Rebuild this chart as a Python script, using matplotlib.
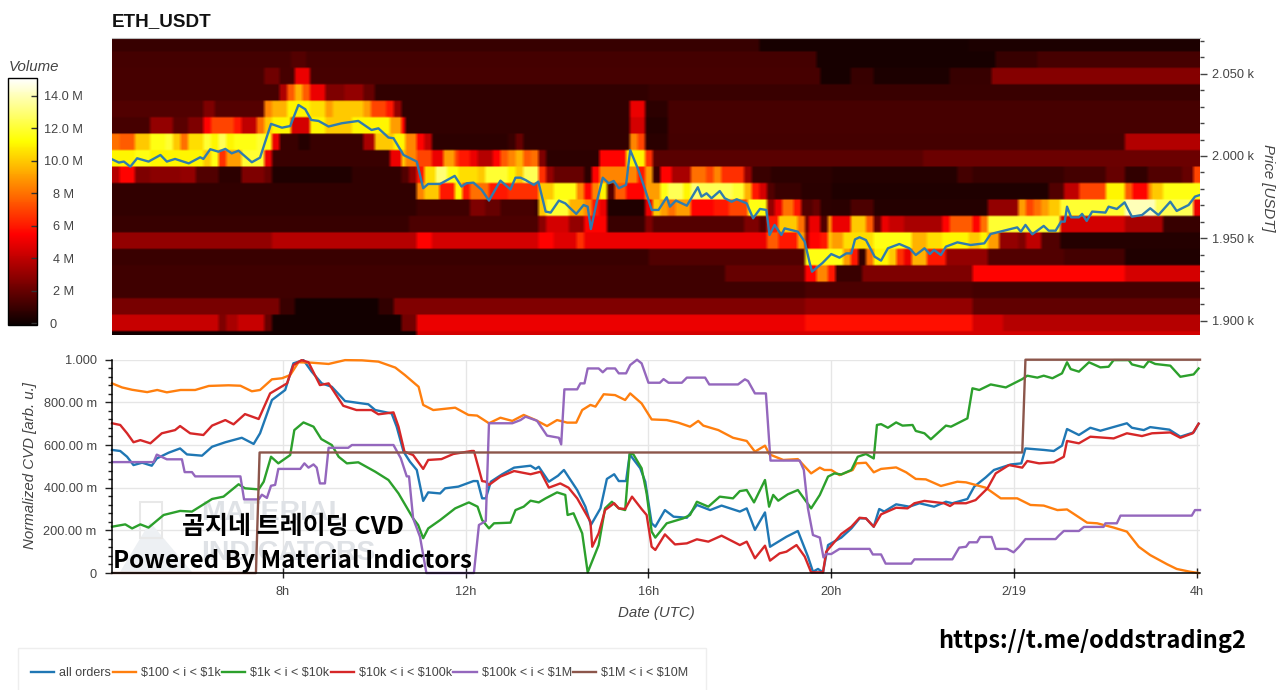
import numpy as np
import matplotlib
matplotlib.use("Agg")
import matplotlib.pyplot as plt
from matplotlib.patches import Rectangle, Polygon
from matplotlib.ticker import FixedLocator, MultipleLocator
from matplotlib.transforms import ScaledTranslation

plt.rcParams['font.family'] = ['Liberation Sans', 'Noto Sans CJK KR', 'DejaVu Sans']

W, H = 1280, 690

# ---- heat map rows: volume (M) per price level, bottom to top; each row = (end hour of run, volume)
price_edge_start = 1883.6
price_edge_step = 10.0
r0 = [(10.91, .1), (28.07, 4.5)]
r1 = [(6.58, 4.2), (6.73, 2.5), (7.04, 3.5), (7.58, 4.2), (7.74, 2), (10.6, .1), (10.91, 2.3), (19.41, 5), (23.06, 5.8), (23.76, 4.5), (28.07, 3.8)]
r2 = [(7.9, 2.4), (8.25, 1), (10.09, .1), (10.4, .8), (19.41, 2.6), (23.06, 3), (28.07, 1.9)]
r3 = [(19.41, 1.1), (23.06, 1.4), (28.07, 1.2)]
r4 = [(17.7, 1.1), (19.41, 2), (19.7, 5.5), (19.9, 8.5), (20.07, 6), (20.7, 1), (23.06, 2.5), (26.4, 5.5), (28.07, 4.5)]
r5 = [(16, 1), (19.42, 1.5), (20.25, 11.5), (20.44, 9), (20.58, 6), (20.76, .8), (20.91, 8), (21.24, 11), (21.42, 10), (21.6, 6.5), (21.75, 5), (22.11, 9.5), (22.47, 6), (23.45, 3), (25.09, 1.5), (26.4, 1.2), (28.07, .4)]
r6 = [(7.74, 3), (10.91, 3.8), (11.26, 5.5), (13.57, 4.5), (13.89, 5.5), (14.44, 4.7), (14.58, 6.5), (18.58, 5), (18.87, 7.5), (19.27, 6), (19.42, 9), (19.53, 3), (19.75, 5.5), (19.89, 6), (20, 10), (20.25, 9), (20.95, 10.5), (21.75, 11.5), (22.11, 9.5), (22.4, 10.5), (23.05, 11), (23.24, 10), (23.42, 11), (23.64, 9), (24.07, 3), (24.29, 2.5), (24.58, 4), (25.05, 1.5), (28.07, .5)]
r7 = [(10.8, .9), (13.56, 1.4), (13.75, 2.8), (14.25, 4.5), (14.58, 3), (15.09, 5.5), (15.89, 1), (16.07, 2.5), (18.07, 1.6), (18.4, 2.5), (18.58, 1.6), (18.87, 6), (19.27, 10), (19.42, 8), (19.53, 2), (19.75, 5), (19.89, 1.5), (20, 9), (20.44, 5), (20.76, 10), (20.95, 7.5), (21.09, 2), (21.27, 5), (21.6, 4.2), (22.4, 3.5), (22.58, 5.5), (23.09, 7.5), (23.24, 5.5), (23.42, 8), (25.05, 12), (26.4, 4.5), (27.27, 3.5), (28.07, .9)]
r8 = [(10.9, .8), (12.11, 1.1), (12.4, 2.5), (12.76, 2), (13.49, 1.3), (13.6, 1), (13.75, 10), (14.29, 12), (14.62, 9.5), (14.76, 8.5), (14.91, 6), (15.09, 5), (15.89, .4), (16.07, 5), (16.22, 10), (16.4, 9), (16.62, 8), (16.91, 9), (17.46, 5.5), (17.78, 6), (18.18, 7), (18.58, 11.5), (18.73, 3), (18.91, 5), (19.2, 8), (19.38, 6), (19.6, 1.5), (19.75, 2), (20, .7), (20.44, .6), (20.95, 1.4), (23.42, .5), (24.07, 3), (24.25, 9), (24.44, 7), (24.58, 8), (24.76, 9), (25.05, 10), (26.4, 12), (27.13, 14), (27.89, 12.5), (28.07, 5)]
r9 = [(10.93, .8), (11.07, 8.5), (11.4, 10), (11.73, 6), (11.91, 11), (12.06, 6), (12.47, 8), (12.91, 6), (13.6, 6.5), (13.93, 10), (14.4, 11.5), (14.58, 8.5), (14.73, 5.5), (14.91, 8.5), (15.09, 11), (15.24, 1.5), (15.53, 7.5), (15.89, 5.5), (16.22, 9), (16.4, 11.5), (16.76, 12.5), (16.91, 11), (17.13, 13), (17.85, 12.5), (18.07, 12), (18.25, 9.5), (18.44, 6), (18.58, 4.5), (18.73, 1.5), (19.38, 1), (20, .6), (24.73, .4), (25.09, 1.5), (25.42, 4), (26.04, 7), (26.4, 11), (26.58, 7.5), (26.91, 5.5), (27.05, 8.5), (27.24, 10), (28.07, 11.5)]
r10 = [(4.41, 3.8), (4.73, 5.5), (5.1, 2.5), (5.79, 2.8), (6.08, 3), (6.59, 1.5), (7.1, .7), (7.57, 2.5), (7.72, 2), (9.51, .4), (10.56, .8), (10.74, 1.5), (10.93, 3), (11.07, 6), (11.36, 10.5), (11.62, 13), (11.84, 11.5), (12.25, 10.5), (12.44, 10), (12.91, 12), (13.09, 11), (13.27, 10), (13.56, 12.5), (13.75, 6.5), (13.93, 3), (14.58, 2), (14.73, .7), (14.91, 5.5), (15.75, 8.5), (15.89, 6), (16.07, 9), (16.25, 1), (16.55, 5.5), (16.91, 3.5), (17.24, 8), (17.42, 7), (17.56, 8.5), (18.07, 6.5), (18.25, 3), (18.66, 1), (20, .7), (22.76, .5), (23.09, 1.2), (25.09, .9), (26.04, 1.2), (26.4, 2), (26.91, .8), (27.71, 1.5), (27.89, 2), (28.07, 7)]
r11 = [(4.77, 11), (5.1, 11.5), (6.3, 11), (6.45, 10), (6.59, 11.5), (6.74, 6.5), (7.07, 9), (7.57, 12), (7.72, 5), (10.38, 1), (10.56, 5), (10.71, 10), (10.93, 8.5), (11.25, 7), (11.55, 5), (11.73, 9), (11.87, 7), (12.09, 6), (12.25, 5), (12.58, 3.8), (12.76, 5.5), (12.95, 7.5), (13.09, 8.5), (13.27, 9.5), (13.42, 7.5), (13.59, 8), (13.75, 2.5), (14.91, .7), (15.53, 5.5), (15.89, 11), (16.07, 6.5), (22, 1.7), (28.07, 2.1)]
r12 = [(4.44, 8), (4.73, 7.5), (5.06, 10), (5.39, 11.5), (5.57, 12), (5.75, 10), (5.9, 8), (6.23, 10.5), (6.41, 12), (6.59, 11), (6.74, 12.5), (6.92, 11), (7.39, 11.5), (7.57, 12), (7.72, 11.5), (7.9, 5), (8.34, 1), (8.56, .5), (9.72, 1), (10.05, 3.5), (10.42, 10), (10.71, 11), (10.89, 8.5), (11.07, 5.5), (11.25, 4), (12.9, .7), (13.09, 1), (13.27, 2), (15.57, .8), (15.75, 8.5), (15.92, 7), (16.4, .6), (26.4, 1.2), (28.07, 3.7)]
r13 = [(5.06, 1.3), (5.57, 3), (5.94, 1.7), (6.23, 2.5), (6.41, 5.5), (6.92, 7), (7.07, 6), (7.39, 4), (7.57, 8), (7.72, 10), (8.19, 11), (8.57, 4.5), (8.92, 11), (9.51, 10), (10.38, 11), (10.56, 9), (10.71, 5.5), (15.57, .8), (15.92, 4.5), (16.4, .5), (28.07, 1.3)]
r14 = [(6.23, 1.5), (6.52, 2.5), (7.57, 1.6), (7.72, 8.5), (8.06, 9.5), (8.56, 11), (8.92, 10.5), (9.07, 9), (9.72, 10), (9.91, 9), (10.27, 7), (10.42, 6), (10.56, 3), (15.57, .8), (15.92, 5), (16.4, .7), (28.07, 1.3)]
r15 = [(7.9, 1.3), (8.06, 3.6), (8.23, 7.5), (8.4, 9.5), (8.6, 7.5), (8.92, 5), (9.36, 2.5), (9.72, 3), (10, 2), (16, .8), (28.07, 1.0)]
r16 = [(7.57, 1.3), (7.9, 2.2), (8.23, 1.3), (8.57, 5), (19.73, 1.3), (20.43, .2), (20.9, .9), (22.57, .3), (23.54, .9), (28.07, 2.7)]
r17 = [(8.2, 1.2), (8.5, 1.6), (19.7, 1.2), (23.58, .2), (24.5, .9), (28.07, 1.3)]
r18 = [(18.4, .9), (23, .2), (28.07, .3)]
heat_rows = [r0, r1, r2, r3, r4, r5, r6, r7, r8, r9, r10, r11, r12, r13, r14, r15, r16, r17, r18]

# ---- price line (hour, USDT)
price_t = [4.26, 4.41, 4.52, 4.66, 4.81, 5.06, 5.32, 5.46, 5.64, 5.94, 6.19, 6.26, 6.41, 6.59, 6.74, 6.88, 7.03, 7.32, 7.5, 7.74, 7.98, 8.16, 8.34, 8.49, 8.62, 8.78, 9, 9.29, 9.65, 9.94, 10.09, 10.31, 10.42, 10.64, 10.93, 11.07, 11.18, 11.44, 11.76, 11.91, 12.02, 12.17, 12.35, 12.51, 12.76, 12.98, 13.09, 13.2, 13.31, 13.49, 13.59, 13.75, 13.86, 14.04, 14.18, 14.29, 14.42, 14.58, 14.67, 14.74, 14.87, 15.0, 15.13, 15.24, 15.35, 15.51, 15.6, 15.78, 15.93, 16.07, 16.22, 16.4, 16.47, 16.6, 16.84, 17.08, 17.16, 17.27, 17.38, 17.56, 17.67, 17.82, 17.93, 18.15, 18.29, 18.44, 18.58, 18.65, 18.76, 18.91, 18.98, 19.27, 19.42, 19.53, 19.58, 19.81, 20.0, 20.18, 20.33, 20.44, 20.52, 20.62, 20.76, 20.95, 21.09, 21.24, 21.49, 21.71, 21.85, 22.04, 22.16, 22.25, 22.4, 22.51, 22.76, 23.05, 23.35, 23.49, 23.78, 24.07, 24.15, 24.25, 24.4, 24.65, 24.76, 24.91, 25.03, 25.11, 25.16, 25.25, 25.42, 25.49, 25.59, 25.71, 26.0, 26.07, 26.25, 26.42, 26.58, 26.8, 26.98, 27.16, 27.42, 27.56, 27.82, 27.96, 28.07]
price_v = [1998, 1996, 1996.6, 1993.5, 1998.6, 1996.6, 2000.6, 1996.6, 1998.2, 1995.5, 1999.2, 1998.2, 2004.1, 2002.6, 2004.3, 2001.6, 2003.2, 1996.2, 1999, 2019.5, 2017.2, 2018.2, 2031, 2028.4, 2021.9, 2021.3, 2017.9, 2019.9, 2021.3, 2015.8, 2016.8, 2011.2, 2010.8, 2000.6, 1996.6, 1980.4, 1983, 1983, 1987.9, 1981.4, 1983.4, 1983.8, 1979.4, 1972.9, 1985, 1979.7, 1986.8, 1986.8, 1985.4, 1982.4, 1984.4, 1966.2, 1965.6, 1972.9, 1971.2, 1968.2, 1964.8, 1970.2, 1969.2, 1955.6, 1972.2, 1986.8, 1983.4, 1984.8, 1980.4, 1982.4, 2003.6, 1991.5, 1979.3, 1967.2, 1967.2, 1974.9, 1969.2, 1972.9, 1969.8, 1981, 1975.3, 1977.3, 1974.3, 1978.7, 1974.3, 1972.2, 1973.7, 1971.2, 1962.1, 1967.8, 1967.2, 1952, 1958.1, 1952, 1956, 1954, 1947.9, 1934.8, 1929.7, 1935, 1940.4, 1938.2, 1940.8, 1940.8, 1949.3, 1950.6, 1948.9, 1938.8, 1936.4, 1943.9, 1946.5, 1943.9, 1939.8, 1943.9, 1940.4, 1942.9, 1939.8, 1944.9, 1947.5, 1945.9, 1946.9, 1952.6, 1954.6, 1956.6, 1954, 1958.1, 1952.4, 1957.5, 1954.6, 1954.6, 1960.1, 1960.1, 1969.2, 1962.7, 1962.7, 1964.8, 1960.5, 1966.2, 1965.6, 1969.2, 1967.8, 1971.8, 1963.1, 1964.1, 1968.2, 1964.1, 1972.2, 1966.6, 1970.2, 1975.3, 1976.3]

# ---- normalized CVD series (hour, value)
all_t = [4.26, 4.44, 4.59, 4.73, 4.92, 5.13, 5.24, 5.5, 5.75, 5.9, 6.23, 6.45, 6.74, 7.1, 7.36, 7.5, 7.76, 8.05, 8.23, 8.45, 8.63, 8.85, 9.07, 9.36, 9.87, 10.02, 10.38, 10.49, 10.64, 10.78, 10.93, 11.07, 11.18, 11.44, 11.55, 11.84, 12.17, 12.26, 12.36, 12.44, 12.55, 12.8, 13.06, 13.42, 13.53, 13.6, 13.82, 14.02, 14.15, 14.44, 14.62, 14.74, 14.95, 15.09, 15.25, 15.35, 15.51, 15.59, 15.82, 15.93, 16.07, 16.15, 16.36, 16.55, 16.84, 17.06, 17.35, 17.6, 18.0, 18.15, 18.33, 18.55, 18.66, 19.02, 19.27, 19.49, 19.6, 19.71, 19.82, 19.93, 20.22, 20.44, 20.62, 20.76, 20.93, 21.05, 21.16, 21.42, 21.71, 21.93, 22.25, 22.51, 22.65, 22.98, 23.13, 23.38, 23.56, 23.93, 24.16, 24.25, 24.65, 24.87, 25.05, 25.16, 25.42, 25.67, 25.89, 26.47, 26.58, 26.84, 26.98, 27.4, 27.64, 27.93, 28.04]
all_v = [.577, .572, .545, .506, .517, .503, .537, .564, .584, .556, .55, .592, .613, .634, .605, .655, .811, .858, .983, .998, .944, .889, .873, .806, .791, .764, .748, .686, .569, .522, .483, .338, .378, .373, .397, .405, .431, .431, .35, .35, .428, .463, .494, .503, .488, .498, .428, .456, .483, .389, .311, .225, .303, .441, .463, .431, .431, .556, .491, .428, .233, .217, .295, .264, .259, .319, .295, .316, .288, .303, .202, .284, .123, .17, .197, .077, .006, .019, .003, .131, .166, .209, .256, .256, .217, .3, .288, .322, .311, .327, .311, .334, .327, .347, .405, .448, .483, .509, .514, .584, .577, .572, .597, .675, .647, .681, .667, .702, .681, .67, .684, .672, .639, .659, .7]

o100_t = [4.26, 4.48, 4.7, 5.03, 5.25, 5.46, 5.76, 6.08, 6.38, 6.81, 7.07, 7.32, 7.5, 7.76, 7.98, 8.16, 8.34, 8.63, 9.0, 9.36, 9.73, 10.09, 10.46, 10.67, 10.97, 11.07, 11.29, 11.77, 12.06, 12.25, 12.51, 12.76, 13.02, 13.27, 13.53, 13.78, 14.0, 14.22, 14.42, 14.55, 14.73, 14.84, 15.02, 15.27, 15.49, 15.6, 15.85, 16.07, 16.4, 16.65, 16.91, 17.09, 17.2, 17.53, 17.85, 18.15, 18.33, 18.55, 18.65, 18.95, 19.27, 19.56, 19.75, 19.85, 20.0, 20.18, 20.47, 20.55, 20.76, 20.93, 21.09, 21.42, 21.64, 21.85, 22.07, 22.4, 22.76, 22.95, 23.38, 23.71, 24.07, 24.36, 24.65, 24.95, 25.16, 25.6, 25.82, 26.18, 26.47, 26.73, 26.98, 27.35, 27.56, 27.85, 28.04]
o100_v = [.889, .87, .859, .848, .858, .847, .858, .858, .877, .88, .878, .852, .858, .908, .913, .928, .988, .986, .98, .998, .997, .991, .963, .928, .873, .788, .764, .775, .741, .738, .702, .728, .713, .741, .717, .689, .717, .705, .705, .764, .788, .78, .838, .834, .811, .842, .795, .72, .717, .705, .686, .713, .691, .67, .634, .619, .569, .597, .556, .53, .534, .467, .494, .483, .483, .459, .483, .514, .517, .472, .488, .495, .472, .441, .439, .408, .428, .425, .4, .35, .35, .319, .316, .295, .298, .236, .233, .213, .194, .123, .084, .041, .019, .006, 0]

k1_t = [4.26, 4.55, 4.7, 4.88, 5.06, 5.39, 5.75, 6.01, 6.45, 6.7, 7.03, 7.17, 7.47, 7.58, 7.74, 7.9, 8.16, 8.25, 8.45, 8.67, 8.84, 9.07, 9.22, 9.4, 9.65, 10.02, 10.31, 10.53, 10.85, 10.96, 11.07, 11.18, 11.44, 11.77, 12.07, 12.26, 12.36, 12.51, 12.62, 12.98, 13.09, 13.27, 13.42, 13.6, 13.75, 14.0, 14.18, 14.23, 14.36, 14.55, 14.67, 14.91, 15.05, 15.2, 15.35, 15.49, 15.59, 15.67, 15.85, 15.96, 16.07, 16.15, 16.4, 16.76, 16.91, 17.06, 17.31, 17.56, 17.85, 18.0, 18.15, 18.31, 18.55, 18.64, 18.73, 18.84, 19.05, 19.27, 19.56, 19.75, 19.93, 20.07, 20.22, 20.44, 20.58, 20.76, 20.93, 21.0, 21.09, 21.24, 21.42, 21.56, 21.78, 21.85, 22.04, 22.18, 22.36, 22.51, 22.62, 22.98, 23.09, 23.24, 23.49, 23.82, 24.18, 24.29, 24.51, 24.65, 24.84, 25.05, 25.16, 25.24, 25.42, 25.64, 25.89, 26.07, 26.18, 26.51, 26.58, 26.84, 26.95, 27.09, 27.42, 27.64, 27.93, 28.04]
k1_v = [.217, .228, .209, .228, .213, .272, .291, .288, .347, .358, .416, .397, .392, .428, .545, .514, .553, .67, .706, .686, .628, .6, .545, .514, .519, .475, .436, .373, .256, .225, .163, .209, .248, .303, .331, .311, .248, .209, .233, .236, .295, .311, .339, .331, .35, .378, .366, .272, .28, .186, .003, .131, .303, .334, .303, .295, .561, .556, .491, .373, .194, .166, .233, .256, .272, .334, .311, .358, .35, .384, .389, .331, .436, .311, .366, .339, .369, .389, .303, .366, .452, .467, .462, .483, .545, .558, .537, .694, .698, .681, .706, .691, .694, .666, .655, .627, .662, .691, .686, .725, .866, .858, .884, .87, .909, .925, .916, .925, .913, .936, .988, .956, .944, .988, .964, .967, .998, .998, .978, .964, .994, .98, .972, .92, .931, .959]

k10_t = [4.26, 4.44, 4.59, 4.73, 4.88, 5.1, 5.35, 5.64, 5.75, 5.97, 6.26, 6.45, 6.74, 6.92, 7.17, 7.47, 7.72, 8.09, 8.23, 8.41, 8.56, 8.81, 9.0, 9.32, 9.61, 9.94, 10.09, 10.42, 10.53, 10.66, 10.85, 11.07, 11.18, 11.47, 11.73, 12.13, 12.18, 12.36, 12.44, 12.51, 12.76, 13.06, 13.42, 13.64, 13.82, 14.07, 14.25, 14.44, 14.73, 14.77, 14.91, 15.05, 15.25, 15.35, 15.49, 15.64, 15.85, 15.96, 16.07, 16.15, 16.36, 16.58, 16.84, 17.06, 17.31, 17.6, 18.0, 18.15, 18.33, 18.55, 18.66, 18.87, 19.02, 19.24, 19.42, 19.56, 19.82, 19.89, 20.22, 20.44, 20.62, 20.76, 20.93, 21.09, 21.42, 21.67, 21.82, 22.04, 22.47, 22.6, 22.69, 22.95, 23.16, 23.42, 23.6, 23.89, 24.18, 24.29, 24.55, 24.87, 25.09, 25.16, 25.42, 25.67, 26.18, 26.47, 26.8, 27.02, 27.42, 27.64, 27.91, 28.04]
k10_v = [.702, .694, .655, .613, .623, .608, .655, .67, .689, .655, .647, .691, .717, .697, .745, .722, .842, .889, .975, .998, .988, .881, .889, .784, .764, .764, .744, .753, .686, .569, .553, .488, .53, .534, .558, .572, .572, .431, .428, .413, .452, .478, .463, .475, .4, .42, .4, .35, .241, .123, .186, .295, .327, .303, .3, .358, .3, .272, .123, .108, .181, .134, .139, .158, .147, .175, .131, .147, .069, .128, .058, .092, .1, .131, .077, .003, .003, .1, .183, .217, .259, .256, .217, .275, .306, .303, .327, .338, .327, .314, .327, .327, .342, .397, .467, .506, .494, .525, .514, .519, .545, .619, .608, .639, .631, .655, .642, .655, .659, .634, .655, .7]

k100_t = [4.26, 5.17, 5.24, 5.46, 5.79, 5.85, 6.01, 6.08, 7.07, 7.15, 7.47, 7.54, 7.65, 7.74, 7.83, 7.9, 8.38, 8.47, 8.56, 8.67, 8.74, 8.81, 8.92, 9.0, 9.43, 9.51, 10.42, 10.58, 10.71, 10.76, 10.85, 11.0, 11.14, 12.18, 12.29, 12.44, 12.51, 13.02, 13.2, 13.31, 13.56, 13.78, 14.04, 14.09, 14.16, 14.44, 14.51, 14.6, 14.67, 14.91, 15.0, 15.09, 15.27, 15.35, 15.51, 15.6, 15.75, 15.85, 16.0, 16.25, 16.33, 16.44, 16.73, 16.84, 17.24, 17.33, 17.96, 18.11, 18.18, 18.33, 18.57, 18.67, 19.31, 19.4, 19.49, 19.6, 19.75, 19.83, 19.89, 20.0, 20.18, 20.84, 20.91, 21.09, 21.19, 21.75, 21.82, 22.65, 22.8, 22.95, 23.02, 23.19, 23.26, 23.51, 23.6, 23.85, 23.99, 24.11, 24.25, 24.91, 24.98, 25.09, 25.42, 25.53, 25.96, 26.0, 26.25, 26.33, 27.89, 27.96, 28.07]
k100_v = [.52, .52, .555, .533, .533, .473, .473, .453, .453, .345, .345, .367, .352, .409, .413, .488, .488, .514, .494, .509, .494, .42, .42, .587, .587, .6, .6, .538, .453, .453, .256, .17, 0, 0, .225, .244, .702, .702, .717, .733, .714, .644, .634, .603, .861, .861, .889, .889, .959, .959, .941, .959, .959, .936, .936, .975, 1.0, .983, .892, .892, .909, .892, .892, .916, .916, .884, .884, .908, .9, .842, .842, .527, .527, .483, .303, .178, .166, .073, .089, .089, .113, .113, .087, .087, .044, .044, .064, .064, .119, .123, .144, .144, .169, .169, .113, .113, .097, .123, .159, .159, .175, .197, .197, .216, .216, .233, .233, .269, .269, .295, .295]

m1_t = [4.26, 7.41, 7.49, 24.18, 24.25, 28.07]
m1_v = [0, 0, .565, .565, 1, 1]

series_names = ['all orders', '$100 < i < $1k', '$1k < i < $10k', '$10k < i < $100k', '$100k < i < $1M', '$1M < i < $10M']
series_t = [all_t, o100_t, k1_t, k10_t, k100_t, m1_t]
series_v = [all_v, o100_v, k1_v, k10_v, k100_v, m1_v]
series_colors = ['#1f77b4', '#ff7f0e', '#2ca02c', '#d62728', '#9467bd', '#8c564b']

cbar_ticks = [0, 2, 4, 6, 8, 10, 12, 14]
cbar_labels = ['0', '2 M', '4 M', '6 M', '8 M', '10.0 M', '12.0 M', '14.0 M']
price_ticks = [1900, 1950, 2000, 2050]
price_labels = ['1.900 k', '1.950 k', '2.000 k', '2.050 k']
cvd_ticks = [0, .2, .4, .6, .8, 1.0]
cvd_labels = ['0', '200.00 m', '400.00 m', '600.00 m', '800.00 m', '1.000']
hour_ticks = [8, 12, 16, 20, 24, 28]
hour_labels = ['8h', '12h', '16h', '20h', '2/19', '4h']

GRAY = '#444444'
fig = plt.figure(figsize=(W / 100, H / 100), dpi=100, facecolor='white')


def axpx(l, t, r, b):
    return fig.add_axes([l / W, 1 - b / H, (r - l) / W, (b - t) / H])


def fx(x):
    return x / W


def fy(y):
    return 1 - y / H


xlim = (4.26, 28.07)

# ---------- heat map (upsampled only vertically so that the bilinear blur stays small between rows)
ax = axpx(112, 38, 1200, 335)
t_edges = np.arange(xlim[0], xlim[1] + 1 / 12, 1 / 12)
t_mid = (t_edges[:-1] + t_edges[1:]) / 2
grid = []
for row in heat_rows:
    ends = [e for e, _ in row]
    vals = np.array([v for _, v in row])
    grid.append(vals[np.clip(np.searchsorted(ends, t_mid), 0, len(vals) - 1)])
grid = np.repeat(np.array(grid), 8, axis=0)
p_edges = price_edge_start + price_edge_step * np.arange(len(heat_rows) + 1)
pcm = ax.imshow(grid, cmap='hot', vmin=-0.12, vmax=15.1, origin='lower', aspect='auto', interpolation='bilinear',
                extent=(t_edges[0], t_edges[-1], p_edges[0], p_edges[-1]))
ax.plot(price_t, price_v, color='#2f7cae', lw=1.7, solid_joinstyle='round')
ax.set_xlim(*xlim)
ax.set_ylim(1891.2, 2071.7)
ax.set_xticks([])
ax.yaxis.tick_right()
ax.yaxis.set_major_locator(FixedLocator(price_ticks))
ax.set_yticklabels(price_labels)
ax.yaxis.set_minor_locator(MultipleLocator(10))
ax.tick_params(axis='y', which='major', length=5, width=1, color='#444444', labelcolor=GRAY, labelsize=9.2, pad=4)
ax.tick_params(axis='y', which='minor', length=3, width=1, color='#444444')
for s in ['left', 'bottom', 'right']:
    ax.spines[s].set_visible(False)
ax.spines['top'].set_color('#bbbbbb')
ax.spines['top'].set_linewidth(0.8)
fig.text(fx(112), fy(22), 'ETH_USDT', fontsize=13.6, fontweight='bold', color='#111111', ha='left', va='center')
fig.text(fx(1268), fy(188), 'Price [USDT]', fontsize=10.8, fontstyle='italic', color=GRAY, rotation=270, ha='center', va='center')

# ---------- colour bar
cax = axpx(8, 78, 37, 325)
cb = fig.colorbar(pcm, cax=cax)
cb.set_ticks(cbar_ticks)
cb.set_ticklabels(cbar_labels)
cb.minorticks_off()
cb.outline.set_edgecolor('black')
cb.outline.set_linewidth(1)
cax.tick_params(axis='y', direction='in', length=4, width=1, color='#333333', labelcolor=GRAY, labelsize=9.2, pad=19)
for lbl in cax.get_yticklabels():
    lbl.set_ha('center')
    if lbl.get_text() == '0':
        lbl.set_transform(lbl.get_transform() + ScaledTranslation(-10 / 100, 0, fig.dpi_scale_trans))
fig.text(fx(9), fy(67), 'Volume', fontsize=10.8, fontstyle='italic', color=GRAY, ha='left', va='center')

# ---------- CVD lines
ax2 = axpx(112, 359.7, 1200, 573)
ax2.set_xlim(*xlim)
ax2.set_ylim(0, 1)
ax2.set_facecolor('white')
handles = []
for t, v, c, n in zip(series_t, series_v, series_colors, series_names):
    h, = ax2.plot(t, v, color=c, lw=1.7, clip_on=False, zorder=3, label=n.replace('$', r'\$'), solid_joinstyle='round')
    handles.append(h)
ax2.set_xticks(hour_ticks)
ax2.set_xticklabels(hour_labels)
ax2.set_yticks(cvd_ticks)
ax2.set_yticklabels(cvd_labels)
ax2.yaxis.set_minor_locator(MultipleLocator(0.04))
ax2.grid(True, which='major', color='#e6e6e6', lw=1)
ax2.set_axisbelow(True)
for s in ['top', 'right']:
    ax2.spines[s].set_visible(False)
for s in ['left', 'bottom']:
    ax2.spines[s].set_color('black')
    ax2.spines[s].set_linewidth(1.1)
    ax2.spines[s].set_zorder(4)
ax2.tick_params(axis='x', which='major', direction='inout', length=7, width=1, color='#222222', labelcolor=GRAY, labelsize=9.2, pad=6)
ax2.tick_params(axis='y', which='major', length=5, width=1, color='#222222', labelcolor=GRAY, labelsize=9.2, pad=6)
ax2.tick_params(axis='y', which='minor', length=3, width=1, color='#222222')
fig.text(fx(30), fy(466), 'Normalized CVD [arb. u.]', fontsize=10.8, fontstyle='italic', color=GRAY, rotation=90, ha='center', va='center')
fig.text(fx(656), fy(613), 'Date (UTC)', fontsize=10.8, fontstyle='italic', color=GRAY, ha='center', va='center')

# ---------- faint watermark behind the lines
ax2.add_patch(Polygon([[fx(120), fy(572)], [fx(150), fy(522)], [fx(192), fy(572)]], closed=True, transform=fig.transFigure,
                      facecolor='#edf0f3', edgecolor='none', zorder=1))
ax2.add_patch(Rectangle((fx(140), fy(538)), 22 / W, 36 / H, transform=fig.transFigure, fill=False, edgecolor='#e8e8e8', lw=1.5, zorder=1))
ax2.text(fx(201), fy(513), 'MATERIAL', transform=fig.transFigure, fontsize=20.5, fontweight='bold', color='#dfe2e6', ha='left', va='center', zorder=1)
ax2.text(fx(201), fy(553), 'INDICATORS', transform=fig.transFigure, fontsize=20.5, fontweight='bold', color='#dfe2e6', ha='left', va='center', zorder=1)

# ---------- black overlay texts
KR = ['Noto Sans CJK KR', 'DejaVu Sans']
fig.text(fx(293), fy(527), '곰지네 트레이딩 CVD', family=KR, fontsize=18, fontweight='bold', color='black', ha='center', va='center', zorder=10)
fig.text(fx(113), fy(561), 'Powered By Material Indictors', family=KR, fontsize=17.4, fontweight='bold', color='black', ha='left', va='center', zorder=10)
fig.text(fx(938), fy(641), 'https://t.me/oddstrading2', family=KR, fontsize=17, fontweight='bold', color='black', ha='left', va='center', zorder=10)

# ---------- legend
fig.add_artist(Rectangle((fx(18), fy(696)), 688 / W, 48 / H, transform=fig.transFigure, fill=False, edgecolor='#eeeeee', lw=1))
fig.legend(handles=handles, loc='center left', bbox_to_anchor=(fx(31), fy(673)), ncol=6, frameon=False,
           fontsize=9, labelcolor=GRAY, handlelength=1.85, handletextpad=0.4, columnspacing=0.12, borderpad=0, borderaxespad=0)

fig.savefig('out.png', dpi=100, facecolor='white')
